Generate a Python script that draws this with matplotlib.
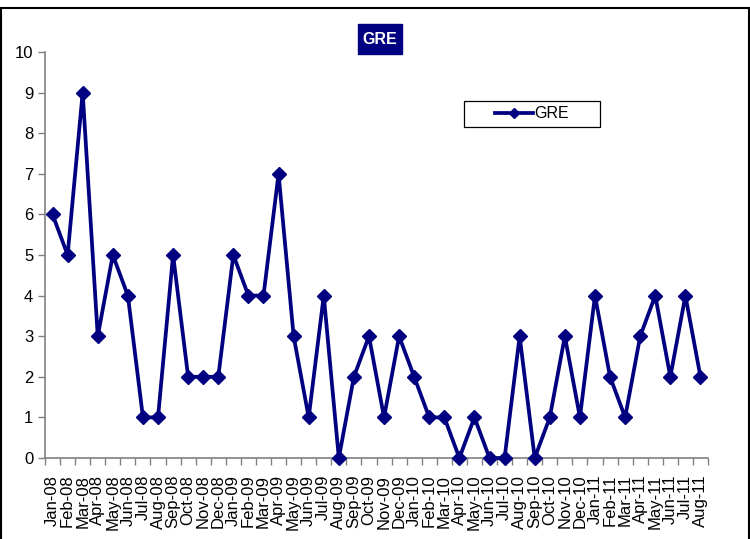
import matplotlib.pyplot as plt
from matplotlib.patches import Rectangle

# Monthly counts, Jan-08 .. Aug-11
months = [
    "Jan-08", "Feb-08", "Mar-08", "Apr-08", "May-08", "Jun-08", "Jul-08", "Aug-08",
    "Sep-08", "Oct-08", "Nov-08", "Dec-08", "Jan-09", "Feb-09", "Mar-09", "Apr-09",
    "May-09", "Jun-09", "Jul-09", "Aug-09", "Sep-09", "Oct-09", "Nov-09", "Dec-09",
    "Jan-10", "Feb-10", "Mar-10", "Apr-10", "May-10", "Jun-10", "Jul-10", "Aug-10",
    "Sep-10", "Oct-10", "Nov-10", "Dec-10", "Jan-11", "Feb-11", "Mar-11", "Apr-11",
    "May-11", "Jun-11", "Jul-11", "Aug-11",
]
gre = [
    6, 5, 9, 3, 5, 4, 1, 1,
    5, 2, 2, 2, 5, 4, 4, 7,
    3, 1, 4, 0, 2, 3, 1, 3,
    2, 1, 1, 0, 1, 0, 0, 3,
    0, 1, 3, 1, 4, 2, 1, 3,
    4, 2, 4, 2,
]

NAVY = "#000080"
plt.rcParams["font.family"] = ["Liberation Sans", "DejaVu Sans"]

fig = plt.figure(figsize=(7.5, 5.39), dpi=100)
ax = fig.add_axes([45 / 750, 1 - 458 / 539, 663 / 750, 406 / 539])

x = list(range(len(months)))
ax.plot(x, gre, color=NAVY, linewidth=2.7, marker="D", markersize=7,
        label="GRE", clip_on=False, zorder=3)

ax.set_xlim(-0.5, len(months) - 0.5)
ax.set_ylim(0, 10)
ax.set_yticks(range(0, 11))
ax.set_xticks(x)
ax.set_xticklabels(months, rotation=90, fontsize=12)
ax.set_xticks([i - 0.5 for i in range(len(months) + 1)], minor=True)
ax.tick_params(axis="x", which="major", length=0, pad=12)
ax.tick_params(axis="x", which="minor", length=5, width=1, color="#808080",
               direction="out")
ax.tick_params(axis="y", length=5, width=1, color="#808080", labelsize=12)

for side in ("top", "right"):
    ax.spines[side].set_visible(False)
for side in ("left", "bottom"):
    ax.spines[side].set_color("#808080")
    ax.spines[side].set_linewidth(1.2)

# Title in a filled navy box
fig.patches.append(Rectangle((358 / 750, 1 - 54 / 539), 44 / 750, 30 / 539,
                             transform=fig.transFigure, facecolor=NAVY,
                             edgecolor=NAVY))
fig.text(380 / 750, 1 - 39 / 539, "GRE", ha="center", va="center",
         color="white", fontsize=11.5, fontweight="bold")

# Legend: frameless entry inside a drawn box
fig.patches.append(Rectangle((464 / 750, 1 - 127 / 539), 136 / 750, 26 / 539,
                             transform=fig.transFigure, facecolor="white",
                             edgecolor="black", linewidth=0.9, zorder=5))
handles, labels = ax.get_legend_handles_labels()
leg = fig.legend(handles, labels, loc="center",
                 bbox_to_anchor=(532 / 750, 1 - 114 / 539),
                 frameon=False, fontsize=11.5, handlelength=2.4,
                 handletextpad=0.05, borderpad=0, markerscale=0.75)
leg.set_zorder(7)

# Outer chart border
fig.patches.append(Rectangle((1 / 750, -0.01), 748 / 750, 1 - 8 / 539 + 0.01,
                             transform=fig.transFigure, fill=False,
                             edgecolor="black", linewidth=1.5))

fig.savefig("out.png", dpi=100)
